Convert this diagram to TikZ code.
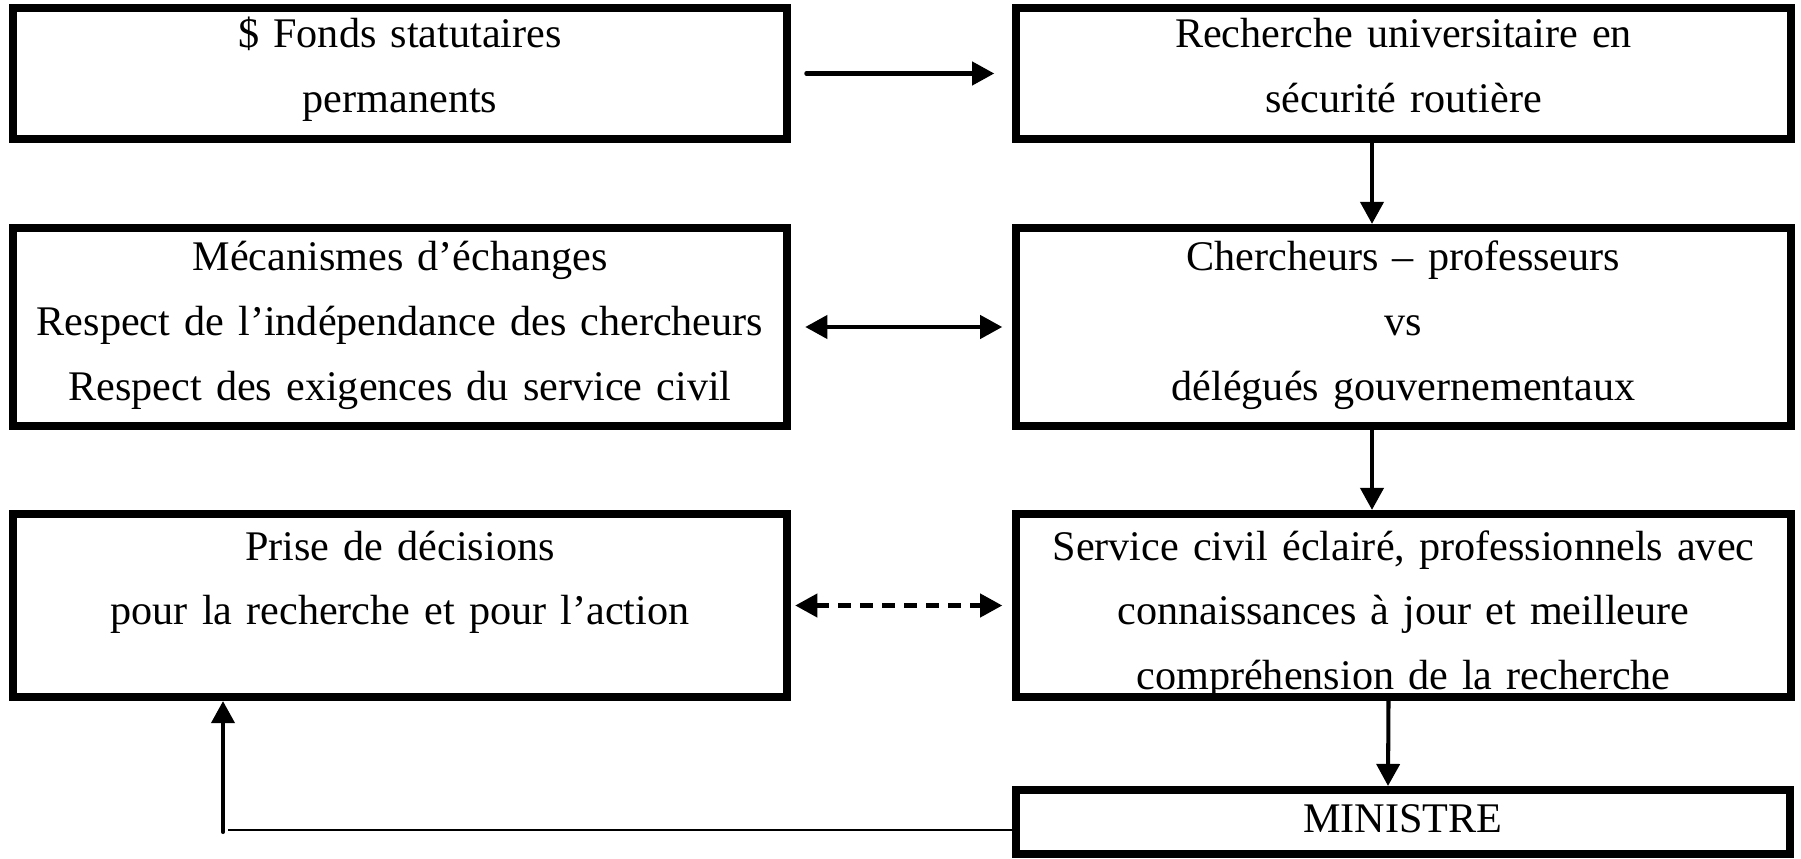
\documentclass[tikz,border=0pt]{standalone}
\usepackage{fontspec}
\setmainfont{Liberation Serif}
\usetikzlibrary{arrows.meta}
\begin{document}
\begin{tikzpicture}[x=0.01cm,y=-0.01cm,
  box/.style={draw=black,line width=2.3pt,rectangle,minimum width=7.74cm,inner sep=0pt},
  txt/.style={anchor=base,align=center,text width=7.6cm,inner sep=0pt,
    font=\fontsize{12}{18.4}\selectfont},
  conn/.style={line width=1.15pt,-{Triangle[length=0.22cm,width=0.23cm]}},
  dconn/.style={line width=1.15pt,{Triangle[length=0.22cm,width=0.23cm]}-{Triangle[length=0.22cm,width=0.23cm]}},
  thinline/.style={line width=0.6pt}]
\useasboundingbox (0,0) rectangle (1801,858);
% boxes
\node[box,minimum height=1.31cm] (b1) at (400,73.5) {};
\node[box,minimum height=1.31cm] (b2) at (1403.5,73.5) {};
\node[box,minimum height=1.98cm] (b3) at (400,327) {};
\node[box,minimum height=1.98cm] (b4) at (1403.5,327) {};
\node[box,minimum height=1.83cm] (b5) at (400,605.5) {};
\node[box,minimum height=1.83cm] (b6) at (1403.5,605.5) {};
\node[box,minimum height=0.64cm] (b7) at (1403,822) {};
% texts
\node[txt] (t1) at (400,48) {\$ Fonds statutaires\\permanents};
\node[txt] (t2) at (1403.5,48) {Recherche universitaire en\\sécurité routière};
\node[txt] (t3) at (400,271) {Mécanismes d’échanges\\Respect de l’indépendance des chercheurs\\Respect des exigences du service civil};
\node[txt] (t4) at (1403.5,271) {Chercheurs – professeurs\\vs\\délégués gouvernementaux};
\node[txt] (t5) at (400,560) {Prise de décisions\\pour la recherche et pour l’action};
\node[txt] (t6) at (1403.5,560) {Service civil éclairé, professionnels avec\\connaissances à jour et meilleure\\compréhension de la recherche};
\node[txt] (t7) at (1403,832) {MINISTRE};
% connectors
\draw[conn,line cap=round,shorten <=0.15cm,shorten >=0.18cm] (b1.east) -- (b2.west);
\draw[conn] ([xshift=-0.315cm]b2.south) -- ([xshift=-0.315cm]b4.north);
\draw[dconn,line cap=round,shorten <=0.14cm,shorten >=0.10cm] (b3.east) -- (b4.west);
\draw[conn] ([xshift=-0.315cm]b4.south) -- ([xshift=-0.315cm]b6.north);
\draw[dconn,dash pattern=on 0.13cm off 0.09cm,shorten <=0.04cm,shorten >=0.10cm] (b5.east) -- (b6.west);
\draw[conn] ([xshift=-0.15cm]b6.south) -- ([xshift=-0.15cm]b7.north);
\coordinate (c1) at (228,830);
\coordinate (c2) at (223,832);
\draw[thinline] (b7.west |- c1) -- (c1);
\draw[conn,line cap=round] (c2) -- (c2 |- b5.south);
\end{tikzpicture}
\end{document}
